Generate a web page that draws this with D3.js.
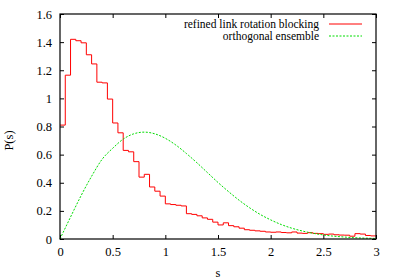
<!DOCTYPE html>
<html>
<head>
<meta charset="utf-8">
<script src="https://cdn.jsdelivr.net/npm/d3@7"></script>
<style>
  body { margin: 0; background: #fff; }
  svg text { font-family: "Liberation Serif", "Times New Roman", Times, serif !important; }
</style>
</head>
<body>
<div id="chart"></div>
<script>
// histogram of level spacings, bins of width 0.05 from 0 to 3
var binWidth = 0.05;
var histValues = [
  0.81, 1.165, 1.42, 1.41, 1.395, 1.31, 1.245, 1.115, 1.11, 0.995,
  0.825, 0.755, 0.63, 0.62, 0.55, 0.44, 0.46, 0.37, 0.34, 0.305,
  0.25, 0.245, 0.24, 0.235, 0.18, 0.175, 0.165, 0.15, 0.14, 0.12,
  0.10, 0.115, 0.095, 0.087, 0.077, 0.066, 0.062, 0.058, 0.055, 0.05,
  0.048, 0.05, 0.046, 0.044, 0.05, 0.042, 0.04, 0.045, 0.04, 0.038,
  0.033, 0.035, 0.03, 0.028, 0.027, 0.02, 0.038, 0.035, 0.025, 0.022
];

// orthogonal ensemble curve, read at s = 0, 0.1, ... 3
var curveS = [0, 0.1, 0.2, 0.3, 0.4, 0.5, 0.6, 0.7, 0.8, 0.9, 1.0,
  1.1, 1.2, 1.3, 1.4, 1.5, 1.6, 1.7, 1.8, 1.9, 2.0,
  2.1, 2.2, 2.3, 2.4, 2.5, 2.6, 2.7, 2.8, 2.9, 3.0];
var curveP = [0, 0.156, 0.308, 0.446, 0.567, 0.645, 0.710, 0.748, 0.760, 0.748, 0.716,
  0.668, 0.608, 0.542, 0.472, 0.402, 0.337, 0.276, 0.222, 0.175, 0.136,
  0.103, 0.077, 0.057, 0.041, 0.029, 0.020, 0.014, 0.009, 0.006, 0.004];

var xTicks = [0, 0.5, 1, 1.5, 2, 2.5, 3];
var yTicks = [0, 0.2, 0.4, 0.6, 0.8, 1, 1.2, 1.4, 1.6];
var legendLabels = ["refined link rotation blocking", "orthogonal ensemble"];

// set the dimensions and margins of the graph
const margin = { top: 14, right: 23, bottom: 40, left: 60 },
  width = 399 - margin.left - margin.right,
  height = 279 - margin.top - margin.bottom;

const svg = d3
  .select("#chart")
  .append("svg")
  .attr("width", 399)
  .attr("height", 279)
  .append("g")
  .attr("transform", `translate(${margin.left},${margin.top})`);

const x = d3.scaleLinear().domain([0, 3]).range([0, width]);
const y = d3.scaleLinear().domain([0, 1.6]).range([height, 0]);

// ticks: inward on all four sides, like gnuplot
const tickLen = 4;
svg.append("g")
  .attr("transform", `translate(0,${height})`)
  .call(d3.axisBottom(x).tickValues(xTicks).tickSize(-tickLen).tickPadding(8)
    .tickFormat(d3.format("")))
  .call(g => g.select(".domain").remove());
svg.append("g")
  .call(d3.axisTop(x).tickValues(xTicks).tickSize(-tickLen).tickFormat(""))
  .call(g => g.select(".domain").remove());
svg.append("g")
  .call(d3.axisLeft(y).tickValues(yTicks).tickSize(-tickLen).tickPadding(8)
    .tickFormat(d3.format("")))
  .call(g => g.select(".domain").remove());
svg.append("g")
  .attr("transform", `translate(${width},0)`)
  .call(d3.axisRight(y).tickValues(yTicks).tickSize(-tickLen).tickFormat(""))
  .call(g => g.select(".domain").remove());

svg.selectAll(".tick text")
  .attr("font-size", "12.5px")
  .attr("fill", "#000");
svg.selectAll(".tick line").attr("stroke", "#000");

// histogram as steps
const stepPts = histValues.map((v, i) => [i * binWidth, v]);
stepPts.push([histValues.length * binWidth, histValues[histValues.length - 1]]);
svg.append("path")
  .datum(stepPts)
  .attr("fill", "none")
  .attr("stroke", "#ff0000")
  .attr("stroke-width", 1)
  .attr("d", d3.line().x(d => x(d[0])).y(d => y(d[1])).curve(d3.curveStepAfter));

// GOE curve
svg.append("path")
  .datum(curveS.map((s, i) => [s, curveP[i]]))
  .attr("fill", "none")
  .attr("stroke", "#00dd00")
  .attr("stroke-width", 1)
  .attr("stroke-dasharray", "2,1.5")
  .attr("d", d3.line().x(d => x(d[0])).y(d => y(d[1])).curve(d3.curveMonotoneX));

// frame
svg.append("rect")
  .attr("x", 0).attr("y", 0)
  .attr("width", width).attr("height", height)
  .attr("fill", "none")
  .attr("stroke", "#000")
  .attr("stroke-width", 1.2);

// legend
const legend = svg.append("g");
legendLabels.forEach(function (lab, i) {
  const ly = 10 + i * 12;
  legend.append("text")
    .attr("x", 259)
    .attr("y", ly + 4)
    .attr("text-anchor", "end")
    .attr("font-size", "11.5px")
    .text(lab);
  legend.append("line")
    .attr("x1", 269).attr("x2", 302)
    .attr("y1", ly).attr("y2", ly)
    .attr("stroke", i == 0 ? "#ff0000" : "#00dd00")
    .attr("stroke-width", 1)
    .attr("stroke-dasharray", i == 0 ? null : "2,1.5");
});

// axis labels
svg.append("text")
  .attr("x", width / 2)
  .attr("y", height + 38)
  .attr("text-anchor", "middle")
  .attr("font-size", "12.5px")
  .text("s");
svg.append("text")
  .attr("transform", `translate(${-47},${height / 2 + 14}) rotate(-90)`)
  .attr("text-anchor", "middle")
  .attr("font-size", "12.5px")
  .text("P(s)");
</script>
</body>
</html>
